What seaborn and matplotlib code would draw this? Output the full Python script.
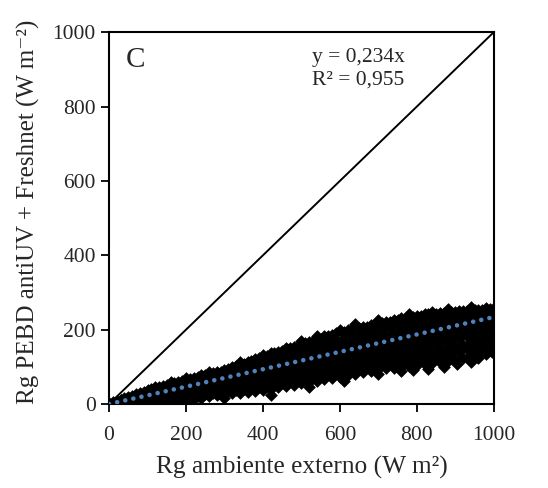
import numpy as np
import pandas as pd
import seaborn as sns
import matplotlib
matplotlib.use('Agg')
import matplotlib.pyplot as plt

# Rg ambiente externo (x) vs Rg PEBD antiUV + Freshnet (y), W m-2
# values estimated from the figure, band read as columns of points
x_even = [0, 20, 40, 60, 80, 100, 120, 140, 160, 180, 200, 220, 240, 260, 280, 300,
          320, 340, 360, 380, 400, 420, 440, 460, 480, 500, 520, 540, 560, 580, 600,
          620, 640, 660, 680, 700, 720, 740, 760, 780, 800, 820, 840, 860, 880, 900,
          920, 940, 960, 980, 1000]
ye_top = [1, 8, 15, 22, 31, 37, 45, 49, 58, 60, 70, 71, 77, 86, 86, 91,
          99, 112, 112, 121, 131, 136, 140, 150, 153, 170, 168, 184, 182, 187, 198,
          198, 214, 206, 212, 226, 221, 225, 232, 243, 237, 241, 248, 245, 255, 248,
          251, 262, 254, 258, 257]
ye_q1 = [0, 6, 11, 17, 22, 28, 33, 38, 43, 46, 52, 56, 61, 64, 68, 73,
         78, 84, 89, 95, 101, 108, 112, 119, 124, 130, 136, 141, 148, 153, 160,
         164, 168, 172, 177, 181, 186, 189, 193, 198, 203, 207, 211, 214, 218, 222,
         226, 229, 232, 236, 240]
ye_mid = [2, 4, 7, 11, 15, 19, 24, 27, 31, 34, 39, 42, 46, 50, 54, 58,
          62, 66, 70, 74, 79, 84, 89, 94, 99, 104, 109, 114, 119, 124, 130,
          134, 138, 142, 147, 151, 155, 160, 164, 168, 172, 176, 180, 184, 188, 193,
          197, 201, 206, 211, 216]
ye_q3 = [0, 2, 4, 6, 8, 11, 14, 16, 19, 22, 25, 28, 32, 35, 38, 42,
         44, 48, 50, 53, 57, 61, 65, 70, 74, 79, 83, 88, 92, 96, 100,
         104, 108, 112, 117, 121, 124, 128, 131, 134, 137, 141, 144, 148, 151, 155,
         160, 166, 172, 178, 184]
ye_bot = [1, 1, 2, 2, 3, 4, 6, 8, 9, 11, 12, 14, 17, 22, 24, 27,
          29, 31, 33, 34, 38, 41, 45, 48, 51, 56, 60, 63, 67, 70, 73,
          77, 81, 85, 89, 93, 96, 98, 101, 103, 106, 109, 111, 114, 116, 119,
          125, 132, 138, 145, 151]

x_odd = [10, 30, 50, 70, 90, 110, 130, 150, 170, 190, 210, 230, 250, 270, 290,
         310, 330, 350, 370, 390, 410, 430, 450, 470, 490, 510, 530, 550, 570, 590,
         610, 630, 650, 670, 690, 710, 730, 750, 770, 790, 810, 830, 850, 870, 890,
         910, 930, 950, 970, 990]
yo_t = [5, 11, 18, 26, 33, 40, 46, 52, 57, 63, 68, 73, 79, 83, 87,
        94, 102, 109, 115, 123, 130, 136, 143, 150, 156, 163, 170, 176, 183, 190,
        195, 200, 204, 208, 213, 217, 222, 225, 230, 234, 238, 241, 243, 245, 247,
        249, 250, 252, 254, 256]
yo_a = [4, 10, 16, 23, 30, 36, 41, 46, 51, 56, 61, 66, 71, 75, 80,
        85, 92, 98, 104, 111, 118, 124, 130, 136, 142, 149, 155, 161, 167, 173,
        179, 184, 188, 192, 197, 201, 206, 210, 214, 219, 222, 226, 229, 232, 235,
        238, 240, 243, 246, 249]
yo_b = [3, 7, 12, 16, 21, 26, 30, 35, 38, 43, 47, 52, 55, 59, 63,
        68, 72, 77, 82, 87, 93, 98, 103, 109, 114, 120, 125, 131, 136, 142,
        147, 151, 155, 160, 165, 169, 173, 177, 181, 186, 190, 194, 198, 202, 206,
        210, 214, 219, 224, 228]
yo_c = [1, 4, 7, 10, 13, 17, 20, 23, 27, 30, 33, 37, 41, 45, 48,
        52, 55, 59, 62, 66, 70, 75, 80, 85, 90, 94, 99, 104, 108, 113,
        117, 121, 125, 130, 134, 138, 142, 146, 150, 153, 157, 161, 165, 169, 173,
        177, 182, 188, 194, 199]
yo_d = [0, 2, 4, 5, 6, 8, 11, 12, 15, 17, 19, 22, 26, 29, 33,
        35, 38, 41, 43, 46, 49, 53, 57, 61, 66, 70, 74, 78, 82, 85,
        89, 93, 97, 101, 105, 108, 112, 115, 118, 121, 124, 127, 130, 133, 136,
        141, 147, 153, 160, 166]

# scattered low points
x_low = [300, 420, 520, 610, 700, 760, 790, 830, 870, 905, 940, 960, 980, 995]
y_low = [15, 25, 45, 62, 82, 88, 92, 95, 100, 108, 112, 125, 135, 140]

slope = 0.234
r2 = 0.955

parts = [pd.DataFrame({'x': x_even, 'y': c}) for c in [ye_top, ye_q1, ye_mid, ye_q3, ye_bot]]
parts += [pd.DataFrame({'x': x_odd, 'y': c}) for c in [yo_t, yo_a, yo_b, yo_c, yo_d]]
parts.append(pd.DataFrame({'x': x_low, 'y': y_low}))
df = pd.concat(parts, ignore_index=True)

sns.set_style('ticks')
plt.rcParams['font.family'] = ['Liberation Serif', 'DejaVu Serif']

fig = plt.figure(figsize=(5.48, 4.88), dpi=100)
ax = fig.add_axes([0.199, 0.172, 0.702, 0.762])

# 1:1 line
ax.plot([0, 1000], [0, 1000], color='black', lw=1.4, zorder=1)

sns.scatterplot(data=df, x='x', y='y', marker='D', s=42, color='black',
                linewidth=0, ax=ax, zorder=2)

# linear trend through origin
ax.plot([0, 1000], [0, slope * 1000], color='#4f81bd', lw=3.3,
        linestyle=(0, (0.01, 1.8)), dash_capstyle='round', zorder=3)

ax.set_xlim(0, 1000)
ax.set_ylim(0, 1000)
ax.set_xticks([0, 200, 400, 600, 800, 1000])
ax.set_yticks([0, 200, 400, 600, 800, 1000])
ax.tick_params(direction='out', length=6, width=1.3, labelsize=15.5, color='black')
ax.tick_params(axis='x', pad=10)
for sp in ax.spines.values():
    sp.set_linewidth(1.5)
    sp.set_color('black')

ax.set_xlabel('Rg ambiente externo (W m²)', fontsize=18.3, labelpad=8)
ax.set_ylabel('Rg PEBD antiUV + Freshnet (W m⁻²)', fontsize=18, loc='bottom', labelpad=9)

ax.text(44, 925, 'C', fontsize=21, va='center', ha='left')
ax.text(528, 932, 'y = 0,234x', fontsize=15.5, va='center', ha='left')
ax.text(528, 871, 'R² = 0,955', fontsize=15.5, va='center', ha='left')

fig.savefig('out.png', dpi=100)
